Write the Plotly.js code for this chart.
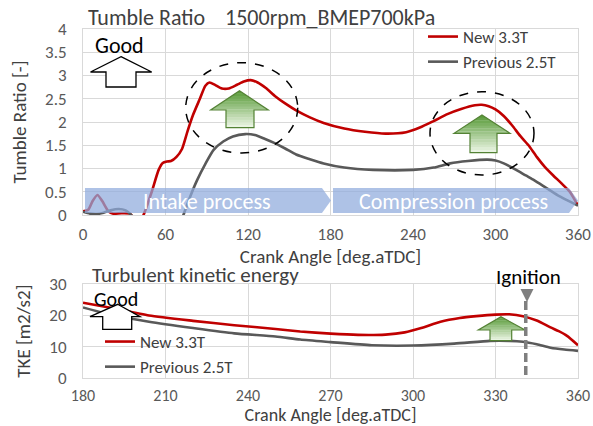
<!DOCTYPE html>
<html><head><meta charset="utf-8">
<script src="https://cdn.plot.ly/plotly-3.0.1.min.js"></script>
<style>html,body{margin:0;padding:0;background:#fff}#c{width:593px;height:426px}</style>
</head><body><div id="c"></div>
<script>
// ---------- data ----------
const seriesNames = ["New 3.3T", "Previous 2.5T"];

const tumbleNewDeg = [0,4,7,10.5,14,18.5,22,28,34,38,41,44,50,55,58,61,64,68,72,76,80,85,89,92,96,101,106,112,117,122,127,133,140,147,155,165,175,190,205,220,235,245,255,265,275,285,290,295,300,306,312,318,324,330,336,342,348,354,360];
const tumbleNew    = [0.08,0.12,0.3,0.43,0.3,0.08,0.03,0.04,0.03,-0.1,-0.15,0.0,0.5,0.97,1.12,1.15,1.16,1.25,1.42,1.8,2.15,2.5,2.78,2.85,2.8,2.72,2.72,2.8,2.87,2.9,2.85,2.73,2.55,2.4,2.25,2.1,1.98,1.86,1.79,1.75,1.78,1.88,2.02,2.17,2.28,2.36,2.37,2.34,2.27,2.13,1.93,1.7,1.5,1.25,1.03,0.85,0.68,0.5,0.2];

const tumblePrevDeg = [0,5,10,15,20,26,31,35,40,60,70,73,78,83,89,95,102,109,118,125,132,139,147,155,165,175,190,211,240,255,267,280,294,300,306,315,322,328,336,345,352,360];
const tumblePrev    = [0.07,0.03,0.02,0.05,0.1,0.13,0.1,0.0,-0.2,-0.5,-0.2,0.0,0.4,0.75,1.1,1.4,1.58,1.69,1.74,1.72,1.64,1.55,1.43,1.3,1.2,1.11,1.02,0.97,0.97,1.02,1.11,1.16,1.19,1.17,1.11,0.97,0.85,0.75,0.6,0.43,0.32,0.2];

const tkeNewDeg = [180,190,204,220,235,250,259,270,280,290,297,303,310,317,323,330,335,340,345,350,353,356,360];
const tkeNew    = [24.1,22.5,20.0,18.3,16.9,15.7,14.9,14.2,13.8,13.9,14.6,16.0,18.0,19.2,19.8,20.3,20.4,19.8,18.4,16.2,15.0,13.5,10.5];

const tkePrevDeg = [180,190,204,220,235,250,259,270,285,300,315,328,335,340,345,350,355,360];
const tkePrev    = [22.6,20.3,18.0,16.0,14.3,13.3,12.3,11.5,10.5,10.4,11.0,11.9,11.9,11.6,10.8,9.7,9.1,8.7];

const ignitionDeg = 341;

const topTitle = "Tumble Ratio\u00a0\u00a0\u00a0\u00a01500rpm_BMEP700kPa";
const bottomTitle = "Turbulent kinetic energy";
const xTitle = "Crank Angle [deg.aTDC]";
const yTitleTop = "Tumble Ratio [-]";
const yTitleBottom = "TKE [m2/s2]";
const processLabels = ["Intake process", "Compression process"];

// ---------- layout helpers ----------
const W = 593, H = 426, ML = 83, MR = 15, MT = 29, MB = 48;
const PW = W - ML - MR, PH = H - MT - MB;
const px = x => (x - ML) / PW;
const py = y => (H - MB - y) / PH;
const FONT = "Carlito, Lato, 'Open Sans', sans-serif";
const RED = "#c00000", GRAY = "#595959", GRID = "#d9d9d9";

function pathFrom(pts) {
  return "M" + pts.map(p => px(p[0]).toFixed(5) + "," + py(p[1]).toFixed(5)).join(" L") + " Z";
}
function arrowPts(a) {
  return [[a.tip[0], a.tip[1]], [a.right, a.base], [a.sr, a.base], [a.sr, a.bottom],
          [a.sl, a.bottom], [a.sl, a.base], [a.left, a.base]];
}
function clipY(poly, ymin, ymax) {
  function clip(pts, inside, inter) {
    const out = [];
    for (let i = 0; i < pts.length; i++) {
      const a = pts[i], b = pts[(i + 1) % pts.length];
      const ia = inside(a), ib = inside(b);
      if (ia) { out.push(a); if (!ib) out.push(inter(a, b)); }
      else if (ib) out.push(inter(a, b));
    }
    return out;
  }
  const at = y => (a, b) => { const t = (y - a[1]) / (b[1] - a[1]); return [a[0] + t * (b[0] - a[0]), y]; };
  let p = clip(poly, q => q[1] >= ymin, at(ymin));
  if (p.length < 3) return p;
  return clip(p, q => q[1] <= ymax, at(ymax));
}
function greenArrow(a) {
  const poly = arrowPts(a), shapes = [], N = 14;
  const top = a.tip[1], bot = a.bottom;
  const c0 = [84, 152, 52], c1 = [238, 247, 232];
  for (let i = 0; i < N; i++) {
    const y0 = top + (bot - top) * i / N, y1 = top + (bot - top) * (i + 1) / N + 0.4;
    const p = clipY(poly, y0, y1);
    if (p.length < 3) continue;
    const t = (i + 0.5) / N;
    const c = c0.map((v, k) => Math.round(v + (c1[k] - v) * t));
    shapes.push({type: "path", xref: "paper", yref: "paper", path: pathFrom(p),
      fillcolor: `rgb(${c[0]},${c[1]},${c[2]})`, line: {width: 0}});
  }
  shapes.push({type: "path", xref: "paper", yref: "paper", path: pathFrom(poly),
    fillcolor: "rgba(0,0,0,0)", line: {color: "#548235", width: 1.2}});
  return shapes;
}
function outlineArrow(a) {
  return {type: "path", xref: "paper", yref: "paper", path: pathFrom(arrowPts(a)),
    fillcolor: "#ffffff", line: {color: "#000000", width: 1.3}};
}
function band(x0, x1, tip, y0, y1) {
  return {type: "path", xref: "paper", yref: "paper",
    path: pathFrom([[x0, y0], [tip, y0], [x1, (y0 + y1) / 2], [tip, y1], [x0, y1]]),
    fillcolor: "rgb(143,170,220)", opacity: 0.72, line: {width: 0}};
}
function ellipse(x0, x1, y0, y1) {
  return {type: "circle", xref: "paper", yref: "paper", x0: px(x0), x1: px(x1), y0: py(y1), y1: py(y0),
    line: {color: "#000000", width: 1.5, dash: "dash"}, fillcolor: "rgba(0,0,0,0)"};
}

// ---------- traces ----------
const traces = [
  {x: tumbleNewDeg, y: tumbleNew, name: seriesNames[0], type: "scatter", mode: "lines",
   line: {color: RED, width: 2.6, shape: "spline", smoothing: 0.6}, xaxis: "x", yaxis: "y", legend: "legend"},
  {x: tumblePrevDeg, y: tumblePrev, name: seriesNames[1], type: "scatter", mode: "lines",
   line: {color: GRAY, width: 2.6, shape: "spline", smoothing: 0.6}, xaxis: "x", yaxis: "y", legend: "legend"},
  {x: tkeNewDeg, y: tkeNew, name: seriesNames[0], type: "scatter", mode: "lines",
   line: {color: RED, width: 2.6, shape: "spline", smoothing: 0.6}, xaxis: "x2", yaxis: "y2", legend: "legend2"},
  {x: tkePrevDeg, y: tkePrev, name: seriesNames[1], type: "scatter", mode: "lines",
   line: {color: GRAY, width: 2.6, shape: "spline", smoothing: 0.6}, xaxis: "x2", yaxis: "y2", legend: "legend2"}
];

// ---------- shapes ----------
const shapes = [];
shapes.push(band(85, 331, 322, 188, 213));
shapes.push(band(333, 578, 569, 188, 213));
shapes.push(ellipse(185.7, 297.7, 62.7, 153));
shapes.push(ellipse(430, 534, 91.7, 175));
shapes.push(...greenArrow({tip: [239.5, 90.7], left: 210.7, right: 268.3, base: 110, sl: 226, sr: 254, bottom: 127.7}));
shapes.push(...greenArrow({tip: [482, 115], left: 454, right: 510, base: 133.3, sl: 470, sr: 497, bottom: 152.7}));
shapes.push(...greenArrow({tip: [501, 316.7], left: 478.3, right: 525, base: 330, sl: 490, sr: 511.7, bottom: 340.7}));
shapes.push(outlineArrow({tip: [121, 56.7], left: 90.5, right: 151.7, base: 72, sl: 106, sr: 136, bottom: 87}));
shapes.push(outlineArrow({tip: [117.7, 304.3], left: 90, right: 140, base: 316.7, sl: 102.7, sr: 131.7, bottom: 329.3}));
shapes.push({type: "line", xref: "x2", yref: "paper", x0: ignitionDeg, x1: ignitionDeg, y0: py(301), y1: py(379),
  line: {color: "#7f7f7f", width: 3.5, dash: "9px,4px"}});
shapes.push({type: "path", xref: "paper", yref: "paper",
  path: pathFrom([[520.5, 289], [533.5, 289], [527, 302]]), fillcolor: "#7f7f7f", line: {width: 0}});

// ---------- annotations ----------
const ann = (text, x, y, size, color, xanchor) => ({text, xref: "paper", yref: "paper", x: px(x), y: py(y),
  xanchor: xanchor || "center", yanchor: "middle", showarrow: false, font: {family: FONT, size, color}});
const annotations = [
  ann(bottomTitle, 90, 275, 21, "#404040", "left"),
  ann("Ignition", 528, 277, 21, "#000000", "center"),
  ann("Good", 119, 45, 22, "#000000"),
  ann("Good", 116, 299, 20, "#000000"),
  ann(processLabels[0], 207, 201, 22, "#ffffff"),
  ann(processLabels[1], 453, 201, 22, "#ffffff")
];

const axisCommon = {showgrid: true, gridcolor: GRID, gridwidth: 1, zeroline: false, showline: true, mirror: true,
  linecolor: GRID, linewidth: 1, ticks: "", tickfont: {family: FONT, size: 17, color: GRAY}, fixedrange: true};

const layout = {
  width: W, height: H, margin: {l: ML, r: MR, t: MT, b: MB}, paper_bgcolor: "#fff", plot_bgcolor: "#fff",
  font: {family: FONT, color: "#404040"},
  title: {text: topTitle, xref: "container", yref: "container", x: 88 / W, xanchor: "left", y: 1 - 17 / H, yanchor: "middle",
    font: {family: FONT, size: 22, color: "#404040"}},
  xaxis: Object.assign({}, axisCommon, {domain: [0, 1], anchor: "y", range: [0, 360], tick0: 0, dtick: 60, ticklabelstandoff: 4,
    title: {text: xTitle, font: {family: FONT, size: 19, color: "#404040"}, standoff: 0}}),
  yaxis: Object.assign({}, axisCommon, {domain: [py(215), 1], anchor: "x", range: [0, 4], dtick: 0.5, ticklabelstandoff: 12,
    title: {text: yTitleTop, font: {family: FONT, size: 19, color: "#404040"}, standoff: 13}}),
  xaxis2: Object.assign({}, axisCommon, {domain: [0, 1], anchor: "y2", range: [180, 360], tick0: 180, dtick: 30, ticklabelstandoff: 3,
    tickfont: {family: FONT, size: 16, color: GRAY},
    title: {text: xTitle, font: {family: FONT, size: 18, color: "#404040"}, standoff: 5}}),
  yaxis2: Object.assign({}, axisCommon, {domain: [0, py(284.3)], anchor: "x2", range: [0, 30], dtick: 10, ticklabelstandoff: 12,
    title: {text: yTitleBottom, font: {family: FONT, size: 19, color: "#404040"}, standoff: 13}}),
  legend: {x: px(423), y: py(19), xanchor: "left", yanchor: "top", bgcolor: "rgba(0,0,0,0)",
    font: {family: FONT, size: 17, color: "#404040"}, itemwidth: 30, tracegroupgap: 0},
  legend2: {x: px(100), y: py(324), xanchor: "left", yanchor: "top", bgcolor: "rgba(0,0,0,0)",
    font: {family: FONT, size: 17, color: "#404040"}, itemwidth: 30, tracegroupgap: 0},
  shapes, annotations, showlegend: true
};

Plotly.newPlot("c", traces, layout, {displayModeBar: false, staticPlot: true});
</script></body></html>
